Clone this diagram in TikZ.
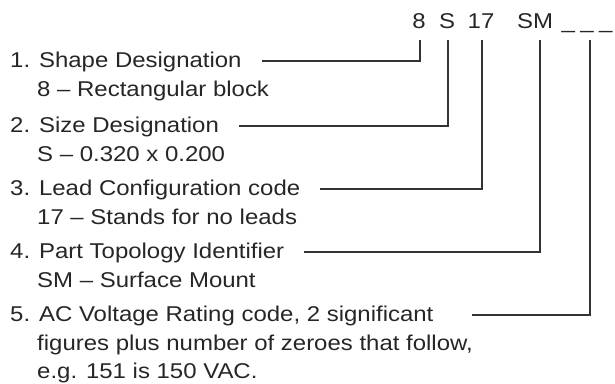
\documentclass[tikz,border=0pt]{standalone}
\usepackage{fontspec}
\setmainfont[FakeStretch=1.12]{Liberation Sans}
\usepackage{tikz}

\begin{document}
\begin{tikzpicture}[x=1pt,y=-1pt,
        txt/.style={anchor=base west,inner sep=0pt,font=\fontsize{21.4}{25}\selectfont,text=black!85},
        code/.style={anchor=base,inner sep=0pt,font=\fontsize{21.4}{25}\selectfont,text=black!85},
        lead/.style={draw=black!80,line width=1.2pt}]
    \useasboundingbox (0,0) rectangle (615,383);
    % part number
    \node[code] (c8) at (419,28) {8};
    \node[code] (cS) at (447,28) {S};
    \node[code] (c17) at (481,28) {17};
    \node[code] (cSM) at (535,28) {SM};
    \node[code] (cV) at (587,28) {\_\kern5.5pt\_\kern5.5pt\_};
    % fields
    \node[txt] (t1) at (10,67) {1. Shape Designation};
    \node[txt] (s1) at (37,96) {8 -- Rectangular block};
    \node[txt] (t2) at (10,132) {2. Size Designation};
    \node[txt] (s2) at (37,161) {S -- 0.320 x 0.200};
    \node[txt] (t3) at (10,195) {3. Lead Configuration code};
    \node[txt] (s3) at (37,224) {17 -- Stands for no leads};
    \node[txt] (t4) at (10,258) {4. Part Topology Identifier};
    \node[txt] (s4) at (37,287) {SM -- Surface Mount};
    \node[txt] (t5) at (10,321) {5. AC Voltage Rating code, 2 significant};
    \node[txt] (s5) at (37,350) {figures plus number of zeroes that follow,};
    \node[txt] (s5b) at (37,378) {e.g. 151 is 150 VAC.};
    % leaders
    \draw[lead] ([xshift=20pt,yshift=6pt]t1.base east) -| ([xshift=1pt,yshift=-12pt]c8.base);
    \draw[lead] ([xshift=20pt,yshift=6pt]t2.base east) -| ([xshift=1pt,yshift=-12pt]cS.base);
    \draw[lead] ([xshift=20pt,yshift=6pt]t3.base east) -| ([xshift=1pt,yshift=-12pt]c17.base);
    \draw[lead] ([xshift=20pt,yshift=6pt]t4.base east) -| ([xshift=5pt,yshift=-12pt]cSM.base);
    \draw[lead] ([xshift=38pt,yshift=6pt]t5.base east) -| ([xshift=3pt,yshift=-12pt]cV.base);
\end{tikzpicture}
\end{document}
